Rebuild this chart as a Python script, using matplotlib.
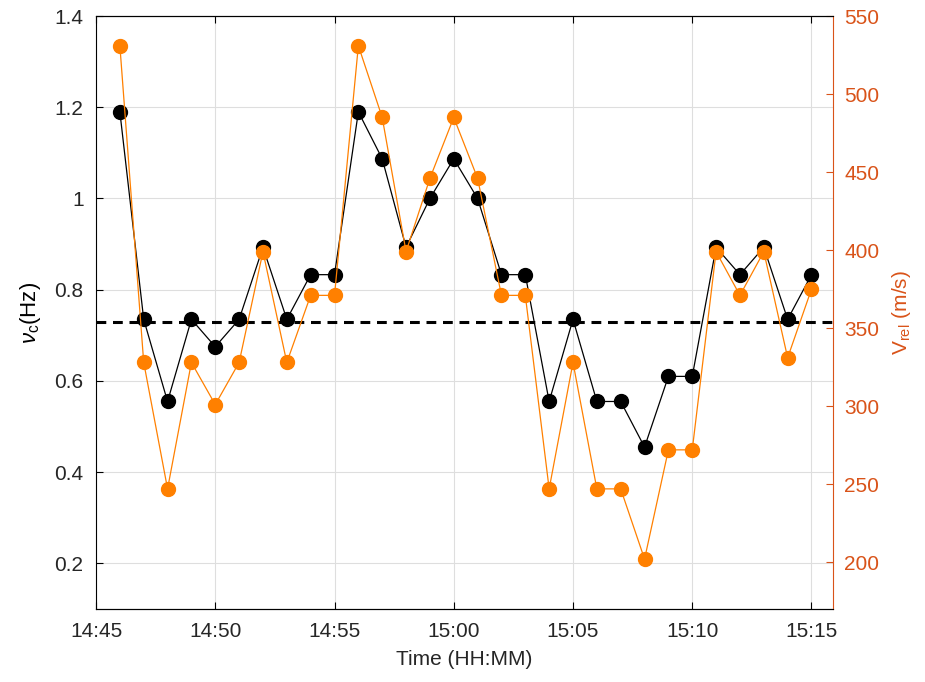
import datetime as dt

import matplotlib
matplotlib.use("Agg")
import matplotlib.pyplot as plt
import matplotlib.dates as mdates

plt.rcParams["font.family"] = ["Liberation Sans", "DejaVu Sans"]
plt.rcParams["mathtext.fontset"] = "custom"
plt.rcParams["mathtext.rm"] = "Liberation Sans"
plt.rcParams["mathtext.it"] = "Liberation Sans:italic"

# 数据：每分钟一个点，14:46 - 15:15
minutes = list(range(46, 76))
nu_c = [1.19, 0.735, 0.555, 0.735, 0.675, 0.735, 0.893, 0.735, 0.833, 0.833,
        1.19, 1.087, 0.893, 1.0, 1.087, 1.0, 0.833, 0.833, 0.555, 0.735,
        0.555, 0.555, 0.455, 0.61, 0.61, 0.893, 0.833, 0.893, 0.735, 0.833]
v_rel = [531, 328, 247, 328, 301, 328, 399, 328, 371, 371,
         531, 485, 399, 446, 485, 446, 371, 371, 247, 328,
         247, 247, 202, 272, 272, 399, 371, 399, 331, 375]
nu_mean = 0.73

base = dt.datetime(2000, 1, 1, 14, 0)
times = [base + dt.timedelta(minutes=m) for m in minutes]

ORANGE = "#FF8000"
AXIS_RED = "#D95319"

fig = plt.figure(figsize=(9.25, 6.82), dpi=100)
ax = fig.add_axes([0.1038, 0.107, 0.7967, 0.8695])

ax.grid(True, color="#dedede", lw=0.8)
ax.set_axisbelow(True)
ax.plot(times, nu_c, "-o", color="black", lw=0.9, ms=10, zorder=3)
ax.axhline(nu_mean, color="black", ls=(0, (3.2, 2.2)), lw=2.2, zorder=4)

ax.set_ylim(0.1, 1.4)
ax.set_yticks([0.2, 0.4, 0.6, 0.8, 1.0, 1.2, 1.4])
ax.set_yticklabels(["0.2", "0.4", "0.6", "0.8", "1", "1.2", "1.4"])
ax.set_xlim(base + dt.timedelta(minutes=45), base + dt.timedelta(minutes=75.9))
ax.xaxis.set_major_locator(mdates.MinuteLocator(byminute=range(0, 60, 5)))
ax.xaxis.set_major_formatter(mdates.DateFormatter("%H:%M"))
ax.tick_params(direction="in", top=True, labelsize=15, length=5, pad=9)
ax.set_xlabel("Time (HH:MM)", fontsize=15, color="#262626", labelpad=7)
ax.set_ylabel(r"$\nu_{\rm c}$(Hz)", fontsize=16, labelpad=8)
ax.spines["right"].set_visible(False)

ax2 = ax.twinx()
ax2.plot(times, v_rel, "-o", color=ORANGE, lw=0.9, ms=10, zorder=3)
ax2.set_ylim(170, 550)
ax2.set_yticks(range(200, 551, 50))
ax2.tick_params(direction="in", colors=AXIS_RED, labelsize=15, length=5, pad=8)
ax2.spines["right"].set_color(AXIS_RED)
ax2.spines["left"].set_visible(False)
ax2.set_ylabel(r"V$_{\rm rel}$ (m/s)", fontsize=15, color=AXIS_RED, labelpad=8)

for lab in ax.get_xticklabels() + ax.get_yticklabels():
    lab.set_color("#262626")

fig.savefig("out.png", dpi=100)
plt.close(fig)
